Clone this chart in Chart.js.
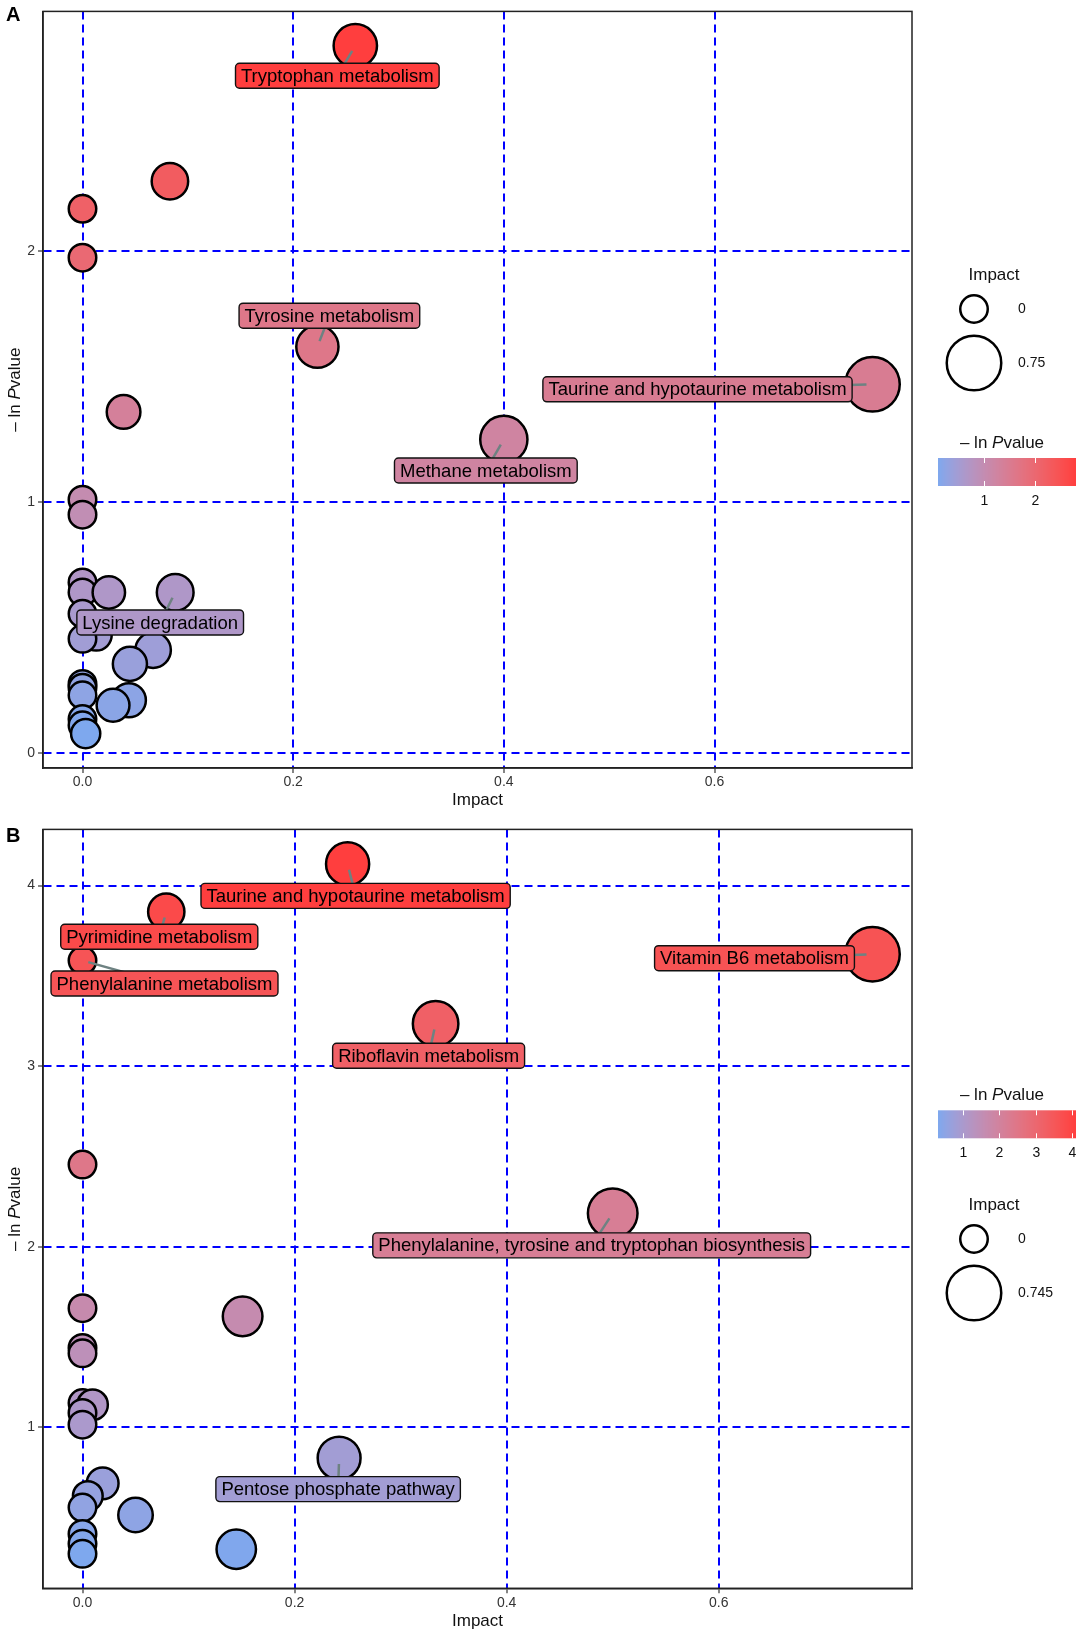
<!DOCTYPE html>
<html>
<head>
<meta charset="utf-8">
<script src="https://cdn.jsdelivr.net/npm/chart.js@4.4.1/dist/chart.umd.min.js"></script>
<style>
  body { margin: 0; background: #fff; width: 1082px; height: 1637px; overflow: hidden; position: relative;
         font-family: "Liberation Sans", Arial, Helvetica, sans-serif; }
  .panel { position: absolute; left: 0; }
  .tag { position: absolute; font-weight: bold; font-size: 20px; color: #000; }
</style>
</head>
<body>
<div class="panel" style="top:0"><canvas id="chartA" width="1082" height="818"></canvas></div>
<div class="panel" style="top:818px"><canvas id="chartB" width="1082" height="819"></canvas></div>
<div class="tag" style="left:6px; top:3px">A</div>
<div class="tag" style="left:6px; top:824px">B</div>
<script>
// ---- data: panel A ----
const impactA = [0.259, 0.083, 0, 0, 0.223, 0.039, 0.75, 0.40, 0, 0, 0, 0, 0.025, 0.088,
                 0, 0.013, 0, 0.067, 0.045, 0, 0, 0, 0.044, 0.029, 0, 0, 0.003];
const pvalA = [2.82, 2.28, 2.17, 1.975, 1.62, 1.36, 1.47, 1.25, 1.01, 0.95, 0.68, 0.64, 0.64, 0.64,
               0.555, 0.47, 0.455, 0.41, 0.355, 0.275, 0.26, 0.23, 0.21, 0.19, 0.135, 0.11, 0.077];
const pathwayA = ['Tryptophan metabolism', null, null, null, 'Tyrosine metabolism', null,
                  'Taurine and hypotaurine metabolism', 'Methane metabolism', null, null, null, null, null,
                  'Lysine degradation', null, null, null, null, null, null, null, null, null, null, null, null, null];
const yTicksA = [0, 1, 2];
const colorTicksA = [1, 2];
const sizeLabelsA = ['0', '0.75'];

// ---- data: panel B ----
const impactB = [0.25, 0.079, 0, 0.745, 0.333, 0, 0.5, 0, 0.151, 0, 0, 0, 0.0095, 0, 0,
                 0.242, 0.019, 0.005, 0, 0.05, 0.145, 0, 0, 0];
const pvalB = [4.12, 3.855, 3.585, 3.62, 3.235, 2.455, 2.185, 1.66, 1.615, 1.44, 1.41, 1.135, 1.125, 1.08, 1.015,
               0.83, 0.69, 0.62, 0.556, 0.515, 0.325, 0.41, 0.355, 0.30];
const pathwayB = ['Taurine and hypotaurine metabolism', 'Pyrimidine metabolism', 'Phenylalanine metabolism',
                  'Vitamin B6 metabolism', 'Riboflavin metabolism', null,
                  'Phenylalanine, tyrosine and tryptophan biosynthesis', null, null, null, null, null, null, null, null,
                  'Pentose phosphate pathway', null, null, null, null, null, null, null, null];
const yTicksB = [1, 2, 3, 4];
const colorTicksB = [1, 2, 3, 4];
const sizeLabelsB = ['0', '0.745'];

const impactTicks = [0, 0.2, 0.4, 0.6];

// label box offsets from their point, in pixels (repel layout)
const labelNudgeA = {
  'Tryptophan metabolism': [-18, 30],
  'Tyrosine metabolism': [12, -31],
  'Taurine and hypotaurine metabolism': [-175, 5],
  'Methane metabolism': [-18, 31],
  'Lysine degradation': [-15, 30]
};
const labelNudgeB = {
  'Taurine and hypotaurine metabolism': [8, 32],
  'Pyrimidine metabolism': [-7, 25],
  'Phenylalanine metabolism': [82, 23],
  'Riboflavin metabolism': [-7, 32],
  'Vitamin B6 metabolism': [-118, 4],
  'Phenylalanine, tyrosine and tryptophan biosynthesis': [-21, 32],
  'Pentose phosphate pathway': [-1, 31]
};

const FONT = '"Liberation Sans", Arial, Helvetica, sans-serif';
const LOW = [126, 168, 238];
const HIGH = [255, 62, 62];
const R_MIN = 15, R_MAX = 28.5;

// colour gradient interpolated in CIELAB like ggplot
function toLin(c) { c /= 255; return c <= 0.04045 ? c / 12.92 : Math.pow((c + 0.055) / 1.055, 2.4); }
function fromLin(c) {
    const v = c <= 0.0031308 ? 12.92 * c : 1.055 * Math.pow(c, 1 / 2.4) - 0.055;
    return Math.round(Math.max(0, Math.min(1, v)) * 255);
}
function rgbToLab(rgb) {
    const r = toLin(rgb[0]), g = toLin(rgb[1]), b = toLin(rgb[2]);
    const x = (r * 0.4124 + g * 0.3576 + b * 0.1805) / 0.95047;
    const y = r * 0.2126 + g * 0.7152 + b * 0.0722;
    const z = (r * 0.0193 + g * 0.1192 + b * 0.9505) / 1.08883;
    const f = t => t > 0.008856 ? Math.cbrt(t) : 7.787 * t + 16 / 116;
    return [116 * f(y) - 16, 500 * (f(x) - f(y)), 200 * (f(y) - f(z))];
}
function labToRgb(lab) {
    const fy = (lab[0] + 16) / 116, fx = fy + lab[1] / 500, fz = fy - lab[2] / 200;
    const inv = t => t * t * t > 0.008856 ? t * t * t : (t - 16 / 116) / 7.787;
    const x = inv(fx) * 0.95047, y = inv(fy), z = inv(fz) * 1.08883;
    return [fromLin(3.2406 * x - 1.5372 * y - 0.4986 * z),
            fromLin(-0.9689 * x + 1.8758 * y + 0.0415 * z),
            fromLin(0.0557 * x - 0.2040 * y + 1.0570 * z)];
}
const labLow = rgbToLab(LOW), labHigh = rgbToLab(HIGH);
function gradColor(t) {
    t = Math.max(0, Math.min(1, t));
    const c = labToRgb([0, 1, 2].map(i => labLow[i] + (labHigh[i] - labLow[i]) * t));
    return `rgb(${c[0]},${c[1]},${c[2]})`;
}

function expand(arr, lo0) {
    const lo = Math.min(lo0 === undefined ? Infinity : lo0, ...arr), hi = Math.max(...arr);
    const pad = (hi - lo) * 0.05;
    return [lo - pad, hi + pad];
}

function roundRect(ctx, x, y, w, h, r) {
    ctx.beginPath();
    ctx.moveTo(x + r, y);
    ctx.arcTo(x + w, y, x + w, y + h, r);
    ctx.arcTo(x + w, y + h, x, y + h, r);
    ctx.arcTo(x, y + h, x, y, r);
    ctx.arcTo(x, y, x + w, y, r);
    ctx.closePath();
}

function drawPvalTitle(ctx, x, y, size) {
    // "– ln Pvalue" with italic P, centred on x
    const reg = size + 'px ' + FONT, ital = 'italic ' + size + 'px ' + FONT;
    const parts = [['\u2013 ln ', reg], ['P', ital], ['value', reg]];
    let total = 0;
    parts.forEach(p => { ctx.font = p[1]; total += ctx.measureText(p[0]).width; });
    let cx = x - total / 2;
    ctx.textAlign = 'left';
    ctx.textBaseline = 'middle';
    parts.forEach(p => { ctx.font = p[1]; ctx.fillText(p[0], cx, y); cx += ctx.measureText(p[0]).width; });
}

function makePanel(cfg) {
    const vMin = Math.min(...cfg.pval), vMax = Math.max(...cfg.pval);
    const maxImpact = Math.max(...cfg.impact);
    const tOf = v => (v - vMin) / (vMax - vMin);
    const colors = cfg.pval.map(v => gradColor(tOf(v)));
    const points = cfg.impact.map((imp, i) => ({
        x: imp, y: cfg.pval[i],
        r: R_MIN + (R_MAX - R_MIN) * Math.sqrt(imp / maxImpact) - 1.25
    }));
    const xr = expand(cfg.impact, 0);
    const yr = expand(cfg.pval);

    const panelPlugin = {
        id: 'panelExtras',
        afterDatasetsDraw(chart) {
            const ctx = chart.ctx;
            const xs = chart.scales.x, ys = chart.scales.y;
            ctx.save();
            cfg.names.forEach((name, i) => {
                if (!name) return;
                const px = xs.getPixelForValue(cfg.impact[i]);
                const py = ys.getPixelForValue(cfg.pval[i]);
                const [dx, dy] = cfg.nudge[name];
                const cx = px + dx, cy = py + dy;
                const ang = Math.atan2(dy, dx);
                ctx.strokeStyle = '#6e8282';
                ctx.lineWidth = 2.5;
                ctx.beginPath();
                ctx.moveTo(px + 6 * Math.cos(ang), py + 6 * Math.sin(ang));
                ctx.lineTo(cx, cy);
                ctx.stroke();

                ctx.font = '18.5px ' + FONT;
                const w = ctx.measureText(name).width + 11, h = 25;
                roundRect(ctx, cx - w / 2, cy - h / 2, w, h, 4);
                ctx.fillStyle = colors[i];
                ctx.fill();
                ctx.lineWidth = 1.4;
                ctx.strokeStyle = '#111';
                ctx.stroke();
                ctx.fillStyle = '#000';
                ctx.textAlign = 'center';
                ctx.textBaseline = 'middle';
                ctx.fillText(name, cx, cy + 1);
            });
            ctx.restore();
        },
        afterDraw(chart) {
            const ctx = chart.ctx;
            const a = chart.chartArea;
            ctx.save();
            // panel border
            ctx.strokeStyle = '#222';
            ctx.lineWidth = 1.5;
            ctx.strokeRect(a.left, a.top, a.right - a.left, a.bottom - a.top);

            // y axis title
            ctx.fillStyle = '#111';
            ctx.save();
            ctx.translate(15, (a.top + a.bottom) / 2);
            ctx.rotate(-Math.PI / 2);
            drawPvalTitle(ctx, 0, 0, 17);
            ctx.restore();

            // size legend
            const sT = cfg.sizeLegendY;
            ctx.fillStyle = '#111';
            ctx.font = '17px ' + FONT;
            ctx.textAlign = 'center';
            ctx.textBaseline = 'middle';
            ctx.fillText('Impact', 994, sT);
            [[0, 34], [maxImpact, 88]].forEach((s, k) => {
                const rr = R_MIN + (R_MAX - R_MIN) * Math.sqrt(s[0] / maxImpact) - 1.25;
                ctx.beginPath();
                ctx.arc(974, sT + s[1], rr, 0, Math.PI * 2);
                ctx.fillStyle = '#fff';
                ctx.fill();
                ctx.lineWidth = 2.5;
                ctx.strokeStyle = '#000';
                ctx.stroke();
                ctx.fillStyle = '#111';
                ctx.font = '14px ' + FONT;
                ctx.textAlign = 'left';
                ctx.fillText(cfg.sizeLabels[k], 1018, sT + s[1]);
            });

            // colour bar legend
            const cT = cfg.colorLegendY;
            ctx.fillStyle = '#111';
            drawPvalTitle(ctx, 1002, cT, 17);
            const bx0 = 938, bx1 = 1076, by0 = cT + 15, by1 = cT + 43;
            for (let x = bx0; x < bx1; x++) {
                ctx.fillStyle = gradColor((x + 0.5 - bx0) / (bx1 - bx0));
                ctx.fillRect(x, by0, 1, by1 - by0);
            }
            ctx.strokeStyle = '#fff';
            ctx.lineWidth = 1;
            ctx.font = '14px ' + FONT;
            ctx.textAlign = 'center';
            cfg.colorTicks.forEach(v => {
                const tx = Math.round(bx0 + tOf(v) * (bx1 - bx0)) + 0.5;
                ctx.beginPath();
                ctx.moveTo(tx, by0); ctx.lineTo(tx, by0 + 5);
                ctx.moveTo(tx, by1); ctx.lineTo(tx, by1 - 5);
                ctx.stroke();
                ctx.fillStyle = '#111';
                ctx.fillText(String(v), tx, by1 + 15);
            });
            ctx.restore();
        }
    };

    const axisGrid = { color: '#0000ff', lineWidth: 2, tickLength: 5, tickColor: '#333', tickWidth: 1.2 };
    const axisBorder = { display: true, color: '#222', width: 1.5, dash: [8, 5] };
    const tickFont = { size: 14, family: FONT };

    return new Chart(document.getElementById(cfg.id), {
        type: 'bubble',
        data: {
            datasets: [{
                data: points,
                backgroundColor: colors,
                borderColor: '#000',
                borderWidth: 2.5
            }]
        },
        options: {
            responsive: false,
            animation: false,
            events: [],
            layout: { autoPadding: false, padding: { left: 0, top: cfg.areaTop, right: 170, bottom: 0 } },
            plugins: { legend: { display: false }, tooltip: { enabled: false } },
            scales: {
                x: {
                    type: 'linear', min: xr[0], max: xr[1],
                    afterBuildTicks: s => { s.ticks = impactTicks.map(v => ({ value: v })); },
                    afterFit: s => { s.height = cfg.axisH; },
                    grid: axisGrid, border: axisBorder,
                    ticks: { padding: 1, color: '#333', font: tickFont, callback: v => Number(v).toFixed(1) },
                    title: { display: true, text: 'Impact', color: '#111', font: { size: 17, family: FONT },
                             padding: { top: 0, bottom: cfg.titlePad } }
                },
                y: {
                    type: 'linear', min: yr[0], max: yr[1],
                    afterBuildTicks: s => { s.ticks = cfg.yTicks.map(v => ({ value: v })); },
                    afterFit: s => { s.width = 43; },
                    grid: axisGrid, border: axisBorder,
                    ticks: { padding: 3, color: '#333', font: tickFont, callback: v => String(v) }
                }
            }
        },
        plugins: [panelPlugin]
    });
}

makePanel({
    id: 'chartA', impact: impactA, pval: pvalA, names: pathwayA, nudge: labelNudgeA,
    yTicks: yTicksA, colorTicks: colorTicksA, sizeLabels: sizeLabelsA,
    areaTop: 7, axisH: 50, titlePad: 7.8, sizeLegendY: 275, colorLegendY: 443
});
makePanel({
    id: 'chartB', impact: impactB, pval: pvalB, names: pathwayB, nudge: labelNudgeB,
    yTicks: yTicksB, colorTicks: colorTicksB, sizeLabels: sizeLabelsB,
    areaTop: 9.3, axisH: 48.7, titlePad: 5.8, sizeLegendY: 387, colorLegendY: 277.3
});
</script>
</body>
</html>
